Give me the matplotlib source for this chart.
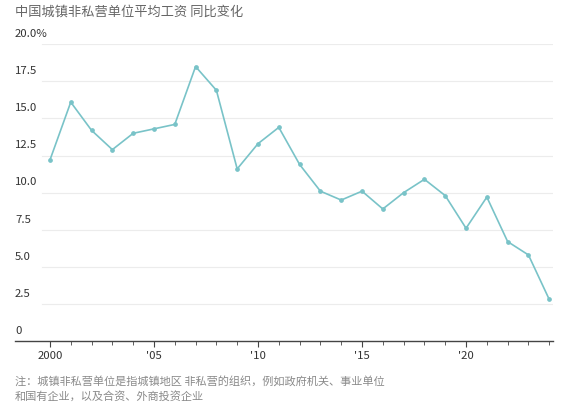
import numpy as np
import matplotlib
matplotlib.use('Agg')
from matplotlib import pyplot as plt

plt.rcParams['font.family'] = ['Noto Sans CJK SC', 'DejaVu Sans']

years = np.arange(2000, 2025)
growth = [12.2, 16.1, 14.2, 12.9, 14.0, 14.3, 14.6, 18.5, 16.9, 11.6, 13.3,
          14.4, 11.9, 10.1, 9.5, 10.1, 8.9, 10.0, 10.9, 9.8, 7.6, 9.7, 6.7, 5.8, 2.8]
yticks = [0, 2.5, 5.0, 7.5, 10.0, 12.5, 15.0, 17.5, 20.0]
ytick_labels = ['0', '2.5', '5.0', '7.5', '10.0', '12.5', '15.0', '17.5', '20.0%']
xticks = [2000, 2005, 2010, 2015, 2020]
xtick_labels = ['2000', "'05", "'10", "'15", "'20"]

title = '中国城镇非私营单位平均工资 同比变化'
note = '注：城镇非私营单位是指城镇地区 非私营的组织，例如政府机关、事业单位\n和国有企业，以及合资、外商投资企业'

fg = plt.figure(figsize=(5.67, 4.03), dpi=100)
ax = fg.add_axes([15/567, 62/403, 538/567, 296.7/403])
ax.set_xlim(1998.32, 2024.18)
ax.set_ylim(0, 20)

# gridlines start right of the labels
for v in yticks[1:]:
    ax.axhline(v, xmin=0.05, xmax=1, color='#ececec', lw=0.8, zorder=0)

line_col = '#79c3c8'
ax.plot(years, growth, color=line_col, lw=1.2, marker='o', ms=2.4, zorder=3)

# y labels sit above the gridlines on the left
for v, lab in zip(yticks, ytick_labels):
    ax.text(0.0, v + 0.35, lab, transform=ax.get_yaxis_transform(),
            ha='left', va='bottom', fontsize=8.2, color='#333333')

ax.set_yticks([])
for s in ['top', 'right', 'left']:
    ax.spines[s].set_visible(False)
ax.spines['bottom'].set_color('#444444')
ax.spines['bottom'].set_linewidth(1.0)

ax.set_xticks(xticks)
ax.set_xticklabels(xtick_labels, fontsize=8.2, color='#333333')
ax.set_xticks(years, minor=True)
ax.tick_params(axis='x', which='major', length=4, color='#444444', pad=3)
ax.tick_params(axis='x', which='minor', length=3, color='#444444')

fg.text(15/567, 1 - 12/403, title, ha='left', va='center', fontsize=9.5, color='#666666')
fg.text(15/567, 1 - 389/403, note, ha='left', va='center', fontsize=8.05,
        color='#8a8a8a', linespacing=1.45)

fg.savefig('out.png', dpi=100, facecolor='white')
